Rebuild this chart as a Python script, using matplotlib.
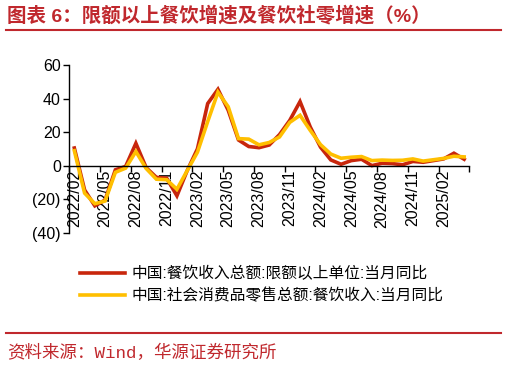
#
# 限额以上餐饮增速及餐饮社零增速
#
import matplotlib
matplotlib.use("Agg")
import matplotlib.pyplot as plt
from matplotlib.lines import Line2D
import numpy as np

plt.rcParams['font.family'] = ['Liberation Sans', 'Noto Sans CJK SC', 'DejaVu Sans']

# 月份 2022/02 - 2025/04
months = ["2022/02", "2022/03", "2022/04", "2022/05", "2022/06", "2022/07", "2022/08", "2022/09",
          "2022/10", "2022/11", "2022/12", "2023/01", "2023/02", "2023/03", "2023/04", "2023/05",
          "2023/06", "2023/07", "2023/08", "2023/09", "2023/10", "2023/11", "2023/12", "2024/01",
          "2024/02", "2024/03", "2024/04", "2024/05", "2024/06", "2024/07", "2024/08", "2024/09",
          "2024/10", "2024/11", "2024/12", "2025/01", "2025/02", "2025/03", "2025/04"]

# 中国:餐饮收入总额:限额以上单位:当月同比
above_quota = [10.5, -14.5, -24.0, -20.5, -2.5, -0.5, 13.3, -1.2, -7.0, -7.5, -18.0, -3.0, 10.0,
               37.0, 45.5, 33.0, 15.3, 11.4, 10.7, 12.3, 18.5, 27.0, 38.2, 23.0,
               11.0, 3.4, 0.8, 3.0, 3.8, 0.0, 1.4, 1.2, 0.5, 2.5, 2.0, 3.0, 4.0, 7.4, 3.8]

# 中国:社会消费品零售总额:餐饮收入:当月同比
retail_catering = [8.9, -16.4, -22.7, -21.1, -4.0, -1.5, 8.4, -1.7, -8.1, -8.4, -14.1, -3.0, 8.0,
                   26.3, 43.8, 35.1, 16.1, 15.8, 12.4, 13.8, 17.1, 25.8, 30.0, 21.0,
                   12.5, 6.9, 4.4, 5.0, 5.4, 3.0, 3.3, 3.1, 3.2, 4.0, 2.7, 3.5, 4.3, 5.6, 5.2]

y_ticks = [-40, -20, 0, 20, 40, 60]
y_labels = ["(40)", "(20)", "0", "20", "40", "60"]

red = '#C8260C'
gold = '#FFBF00'
title_red = '#C0282D'

fig = plt.figure(figsize=(5.07, 3.67), dpi=100)
ax = fig.add_axes([69.2 / 507, 1 - 232.7 / 367, 400.1 / 507, 167.7 / 367])

# 横轴放在0的位置（要先于刻度设置，否则刻度会被重置）
ax.spines['bottom'].set_position(('data', 0))
ax.spines['top'].set_visible(False)
ax.spines['right'].set_visible(False)
ax.spines['left'].set_linewidth(1)
ax.spines['bottom'].set_linewidth(1)

x = np.arange(len(months))
ax.plot(x, above_quota, color=red, lw=2.6, solid_joinstyle='miter',
        label='中国:餐饮收入总额:限额以上单位:当月同比')
ax.plot(x, retail_catering, color=gold, lw=2.6, solid_joinstyle='miter',
        label='中国:社会消费品零售总额:餐饮收入:当月同比')

ax.set_xlim(-0.5, len(months) - 0.5)
ax.set_ylim(-40, 60)
ax.set_yticks(y_ticks)
ax.set_yticklabels(y_labels, fontsize=11.5)

# 刻度线在类别边界，标签在类别中心
ax.set_xticks(np.arange(-0.5, len(months), 3))
ax.set_xticklabels([])
ax.set_xticks(x[::3], minor=True)
ax.set_xticklabels(months[::3], minor=True, rotation=90, fontsize=11.5, va='top', ha='center')
ax.tick_params(axis='x', which='major', length=4, width=1, direction='out')
ax.tick_params(axis='x', which='minor', length=0, pad=3, labelrotation=90)
ax.tick_params(axis='y', length=4, width=1, direction='out', pad=2)

fig.legend(loc='upper left', bbox_to_anchor=(72 / 507, 1 - 258 / 367), frameon=False,
           fontsize=11.3, handlelength=2.9, handletextpad=0.4, labelspacing=0.42, borderpad=0)

# 标题和分隔线
fig.text(7 / 507, 1 - 16 / 367, '图表 6：限额以上餐饮增速及餐饮社零增速（%）', color=title_red,
         fontsize=14, fontweight='bold', va='center', ha='left')
fig.add_artist(Line2D([6 / 507, 501 / 507], [1 - 30 / 367, 1 - 30 / 367], color=title_red, lw=1.5))
fig.add_artist(Line2D([6 / 507, 501 / 507], [1 - 333 / 367, 1 - 333 / 367], color=title_red, lw=1.5))
fig.text(7 / 507, 1 - 352 / 367, '资料来源：Wind，华源证券研究所', color=title_red,
         fontsize=12.6, va='center', ha='left', family=['Liberation Mono', 'Noto Sans CJK SC'])

fig.savefig('out.png', dpi=100)
